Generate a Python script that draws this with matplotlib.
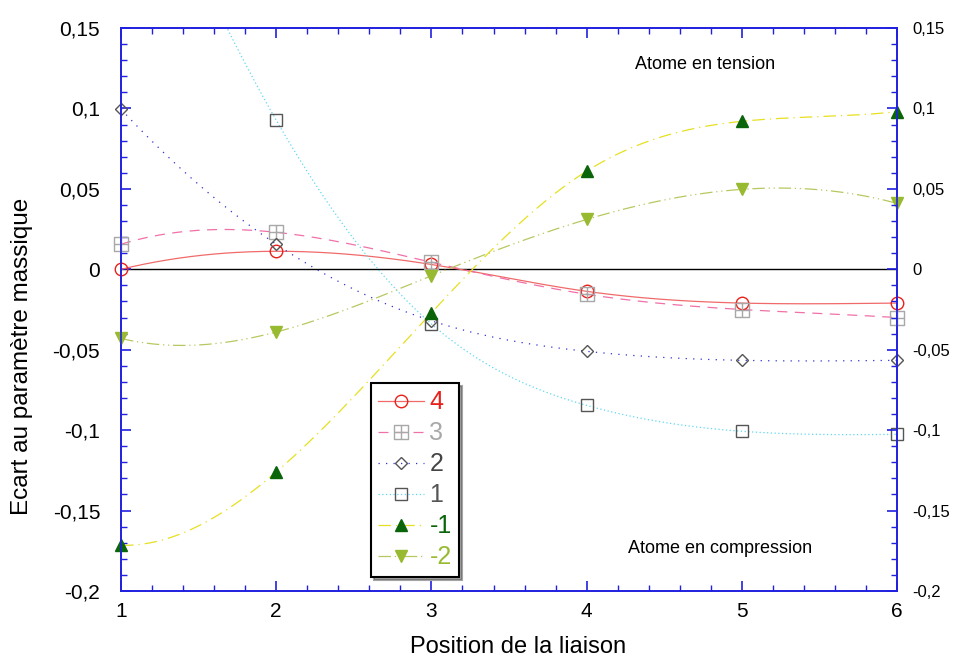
import numpy as np
import matplotlib
matplotlib.use("Agg")
import matplotlib.pyplot as plt
from matplotlib.path import Path
from matplotlib.ticker import MultipleLocator, FuncFormatter

plt.rcParams["font.family"] = ["Liberation Sans", "DejaVu Sans"]

positions = [1, 2, 3, 4, 5, 6]

s4 = [0.0, 0.0112, 0.003, -0.0137, -0.021, -0.021]
s3 = [0.0156, 0.023, 0.0044, -0.0155, -0.025, -0.030]
s2 = [0.0995, 0.0156, -0.032, -0.051, -0.0566, -0.0566]
s1 = [0.30, 0.0927, -0.034, -0.0846, -0.1007, -0.1026]
sm1 = [-0.1716, -0.126, -0.027, 0.061, 0.092, 0.098]
sm2 = [-0.043, -0.039, -0.004, 0.031, 0.0497, 0.041]

series_labels = ["4", "3", "2", "1", "-1", "-2"]

Y_MIN, Y_MAX = -0.2, 0.15


def smooth_curve(x, y, num=400):
    """Cubic spline with not-a-knot end conditions."""
    x = np.asarray(x, float)
    y = np.asarray(y, float)
    n = len(x)
    h = np.diff(x)
    A = np.zeros((n, n))
    b = np.zeros(n)
    A[0, 0], A[0, 1], A[0, 2] = h[1], -(h[0] + h[1]), h[0]
    A[-1, -3], A[-1, -2], A[-1, -1] = h[-1], -(h[-2] + h[-1]), h[-2]
    for i in range(1, n - 1):
        A[i, i - 1] = h[i - 1]
        A[i, i] = 2 * (h[i - 1] + h[i])
        A[i, i + 1] = h[i]
        b[i] = 3 * ((y[i + 1] - y[i]) / h[i] - (y[i] - y[i - 1]) / h[i - 1])
    c = np.linalg.solve(A, b)
    xs = np.linspace(x[0], x[-1], num)
    ys = np.empty_like(xs)
    for k, xv in enumerate(xs):
        i = min(np.searchsorted(x, xv, side="right") - 1, n - 2)
        dx = xv - x[i]
        bi = (y[i + 1] - y[i]) / h[i] - h[i] * (2 * c[i] + c[i + 1]) / 3
        di = (c[i + 1] - c[i]) / (3 * h[i])
        ys[k] = y[i] + bi * dx + c[i] * dx ** 2 + di * dx ** 3
    return xs, ys


# square with a cross inside
sq_plus = Path(
    [(-1, -1), (1, -1), (1, 1), (-1, 1), (-1, -1),
     (0, -1), (0, 1), (-1, 0), (1, 0)],
    [Path.MOVETO, Path.LINETO, Path.LINETO, Path.LINETO, Path.CLOSEPOLY,
     Path.MOVETO, Path.LINETO, Path.MOVETO, Path.LINETO],
)

styles = [
    dict(data=s4, lc="#f06a6a", ls="-", marker="o", mfc="none", mec="#e8201a", ms=9, tc="#e8201a"),
    dict(data=s3, lc="#f070a8", ls=(0, (8, 6)), marker=sq_plus, mfc="none", mec="#a8a8a8", ms=10, tc="#a8a8a8"),
    dict(data=s2, lc="#3030d0", ls=(0, (1, 5)), marker="D", mfc="none", mec="#555555", ms=6.5, tc="#444444"),
    dict(data=s1, lc="#60d8f0", ls=(0, (1, 2)), marker="s", mfc="none", mec="#555555", ms=9, tc="#555555"),
    dict(data=sm1, lc="#e6e020", ls=(0, (10, 4, 1, 4)), marker="^", mfc="#0a640a", mec="#0a640a", ms=9, tc="#0a640a"),
    dict(data=sm2, lc="#b8c860", ls=(0, (10, 3, 1, 3, 1, 3)), marker="v", mfc="#98ba30", mec="#98ba30", ms=9, tc="#98ba30"),
]

fig = plt.figure(figsize=(9.56, 6.61), dpi=100)
ax = fig.add_axes([0.1266, 0.1059, 0.8117, 0.8517])

handles = []
for st, lab in zip(styles, series_labels):
    xs, ys = smooth_curve(positions, st["data"])
    ax.plot(xs, ys, color=st["lc"], ls=st["ls"], lw=0.9, zorder=2)
    vals = np.asarray(st["data"], float)
    shown = np.where((vals >= Y_MIN) & (vals <= Y_MAX), vals, np.nan)
    ax.plot(positions, shown, ls="none", marker=st["marker"], mfc=st["mfc"],
            mec=st["mec"], ms=st["ms"], mew=1.0, zorder=3, clip_on=False)
    h, = ax.plot([], [], color=st["lc"], ls=st["ls"], lw=0.9, marker=st["marker"],
                 mfc=st["mfc"], mec=st["mec"], ms=st["ms"], mew=1.0, label=lab)
    handles.append(h)

ax.axhline(0, color="black", lw=1.0, zorder=1)

ax.set_xlim(1, 6)
ax.set_ylim(Y_MIN, Y_MAX)

fmt = FuncFormatter(lambda v, p: ("%g" % round(v, 3)).replace(".", ","))
ax.xaxis.set_major_locator(MultipleLocator(1))
ax.xaxis.set_minor_locator(MultipleLocator(0.2))
ax.yaxis.set_major_locator(MultipleLocator(0.05))
ax.yaxis.set_minor_locator(MultipleLocator(0.01))
ax.yaxis.set_major_formatter(fmt)

for sp in ax.spines.values():
    sp.set_color("#2020e0")
    sp.set_linewidth(1.2)

ax.tick_params(axis="both", which="both", direction="in", color="#2020e0",
               top=True, right=False, labelsize=15)
ax.tick_params(which="major", length=7, width=1.2)
ax.tick_params(which="minor", length=4, width=1.0)
ax.tick_params(axis="x", which="major", pad=8)
ax.tick_params(axis="y", which="major", pad=15)

ax2 = ax.twinx()
ax2.set_ylim(Y_MIN, Y_MAX)
ax2.yaxis.set_major_locator(MultipleLocator(0.05))
ax2.yaxis.set_minor_locator(MultipleLocator(0.01))
ax2.yaxis.set_major_formatter(fmt)
for sp in ax2.spines.values():
    sp.set_color("#2020e0")
    sp.set_linewidth(1.2)
ax2.tick_params(axis="y", which="both", direction="in", color="#2020e0", labelsize=12)
ax2.tick_params(which="major", length=7, width=1.2, pad=11)
ax2.tick_params(which="minor", length=4, width=1.0)

ax.set_xlabel("Position de la liaison", fontsize=17)
ax.xaxis.set_label_coords(0.512, -0.08)
ax.set_ylabel("Ecart au paramètre massique", fontsize=17.5)
ax.yaxis.set_label_coords(-0.114, 0.416)

ax.text(0.753, 0.935, "Atome en tension", transform=ax.transAxes, fontsize=13, ha="center", va="center")
ax.text(0.772, 0.076, "Atome en compression", transform=ax.transAxes, fontsize=13, ha="center", va="center")

leg = ax.legend(handles=handles, loc="lower left", bbox_to_anchor=(0.322, 0.025), fontsize=18,
                frameon=True, fancybox=False, shadow=True, handlelength=1.84,
                handletextpad=0.2, labelspacing=0.28, borderpad=0.3, borderaxespad=0)
leg.get_frame().set_edgecolor("black")
leg.get_frame().set_linewidth(1.5)
for txt, st in zip(leg.get_texts(), styles):
    txt.set_color(st["tc"])
leg.set_zorder(5)

fig.savefig("out.png", dpi=100)
